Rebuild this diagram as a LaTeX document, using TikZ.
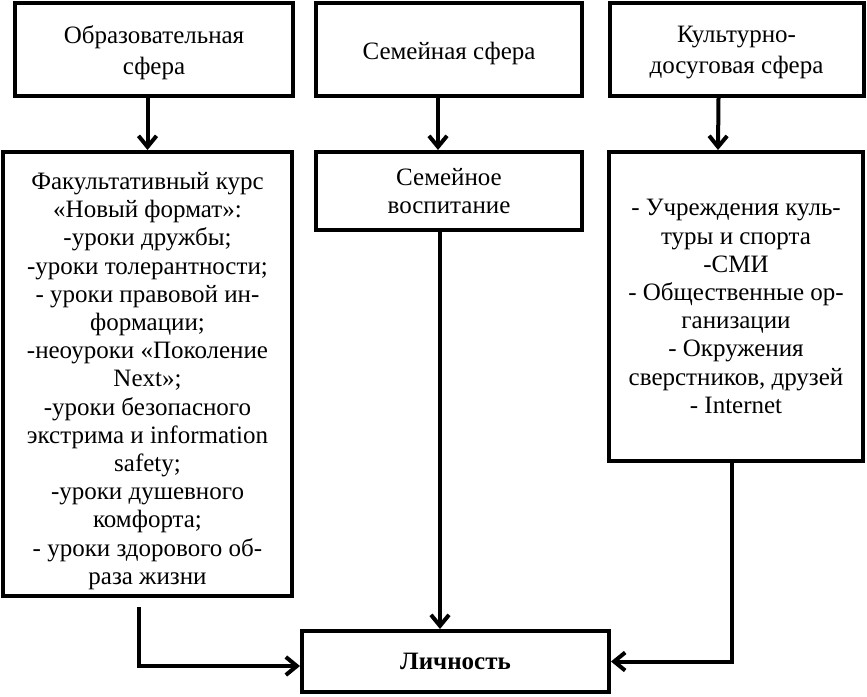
\documentclass[tikz,border=0pt]{standalone}
\usepackage{fontspec}
\setmainfont{Liberation Serif}
\usetikzlibrary{arrows.meta}
\begin{document}
\begin{tikzpicture}[x=1pt,y=-1pt,
  box/.style={draw,line width=4pt,inner sep=0pt,align=center,
    font=\fontsize{25}{28.2}\selectfont},
  txt/.style={inner sep=0pt,align=center,font=\fontsize{25}{28.2}\selectfont},
  toptxt/.style={inner sep=0pt,align=center,font=\fontsize{25}{31}\selectfont},
  arr/.style={line width=4pt,-{Straight Barb[length=11pt,width=18pt]}}]
\useasboundingbox (0,0) rectangle (867,696);
% top row
\node[box,minimum width=278pt,minimum height=93pt] (b1) at (154,49.5) {};
\node[toptxt] (t1) at ([yshift=-3pt]b1.center) {Образовательная\\сфера};
\node[box,minimum width=266pt,minimum height=93pt] (b2) at (449,49.5) {};
\node[toptxt] (t2) at ([yshift=-4pt]b2.center) {Семейная сфера};
\node[box,minimum width=254pt,minimum height=93pt] (b3) at (736.5,49.5) {};
\node[toptxt] (t3) at ([yshift=-3pt]b3.center) {Культурно-\\досуговая сфера};
% second row
\node[box,minimum width=289pt,minimum height=444pt] (b4) at (147.5,374) {};
\node[txt] (t4) at ([yshift=-7pt]b4.center) {Факультативный курс\\«Новый формат»:\\-уроки дружбы;\\-уроки толерантности;\\- уроки правовой ин-\\формации;\\-неоуроки «Поколение\\Next»;\\-уроки безопасного\\экстрима и information\\safety;\\-уроки душевного\\комфорта;\\- уроки здорового об-\\раза жизни};
\node[box,minimum width=266pt,minimum height=78pt] (b5) at (449,191) {Семейное\\воспитание};
\node[box,minimum width=254pt,minimum height=309pt] (b6) at (736,306.5) {- Учреждения куль-\\туры и спорта\\-СМИ\\- Общественные ор-\\ганизации\\- Окружения\\сверстников, друзей\\- Internet};
% bottom
\node[box,minimum width=307pt,minimum height=61pt,font=\fontsize{25}{28.2}\selectfont\bfseries] (b7) at (455.5,661.5) {Личность};
% arrows
\draw[arr] (b4.north |- b1.south) -- (b4.north);
\draw[arr] ([xshift=-11pt]b2.south) -- ([xshift=-11pt]b5.north);
\draw[arr] ([xshift=-18pt]b3.south) -- ([xshift=-18pt]b6.north);
\draw[arr] ([xshift=-9pt]b5.south) -- ([xshift=-15.5pt]b7.north);
\draw[arr] ([xshift=-8.5pt,yshift=-9pt]b4.south) |- ([yshift=-4.5pt]b7.west);
\draw[arr] ([xshift=-4pt]b6.south) |- (b7.east);
\end{tikzpicture}
\end{document}
